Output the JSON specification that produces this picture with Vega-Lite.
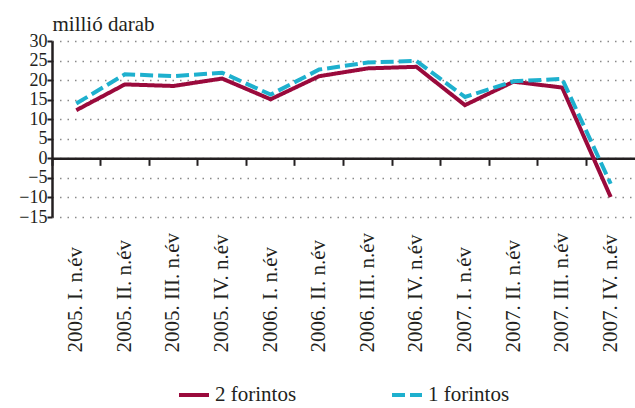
{
  "$schema": "https://vega.github.io/schema/vega-lite/v6.json",
  "width": 583,
  "height": 176,
  "autosize": "none",
  "padding": {"left": 52, "top": 41, "right": 0, "bottom": 191},
  "background": "white",
  "config": {
    "font": "Liberation Serif",
    "view": {"stroke": null},
    "axis": {"labelFont": "Liberation Serif", "titleFont": "Liberation Serif", "labelColor": "#231F20", "titleColor": "#231F20"},
    "legend": {"labelFont": "Liberation Serif", "titleFont": "Liberation Serif"}
  },
  "data": {
    "values": [
      {"q": "2005. I. n.év", "s": "2 forintos", "v": 12.3},
      {"q": "2005. II. n.év", "s": "2 forintos", "v": 18.9},
      {"q": "2005. III. n.év", "s": "2 forintos", "v": 18.5},
      {"q": "2005. IV. n.év", "s": "2 forintos", "v": 20.4},
      {"q": "2006. I. n.év", "s": "2 forintos", "v": 15.1},
      {"q": "2006. II. n.év", "s": "2 forintos", "v": 21.0},
      {"q": "2006. III. n.év", "s": "2 forintos", "v": 23.0},
      {"q": "2006. IV. n.év", "s": "2 forintos", "v": 23.4},
      {"q": "2007. I. n.év", "s": "2 forintos", "v": 13.6},
      {"q": "2007. II. n.év", "s": "2 forintos", "v": 19.6},
      {"q": "2007. III. n.év", "s": "2 forintos", "v": 18.1},
      {"q": "2007. IV. n.év", "s": "2 forintos", "v": -9.9},
      {"q": "2005. I. n.év", "s": "1 forintos", "v": 14.0},
      {"q": "2005. II. n.év", "s": "1 forintos", "v": 21.5},
      {"q": "2005. III. n.év", "s": "1 forintos", "v": 21.0},
      {"q": "2005. IV. n.év", "s": "1 forintos", "v": 21.9},
      {"q": "2006. I. n.év", "s": "1 forintos", "v": 16.3},
      {"q": "2006. II. n.év", "s": "1 forintos", "v": 22.7},
      {"q": "2006. III. n.év", "s": "1 forintos", "v": 24.5},
      {"q": "2006. IV. n.év", "s": "1 forintos", "v": 24.9},
      {"q": "2007. I. n.év", "s": "1 forintos", "v": 15.7},
      {"q": "2007. II. n.év", "s": "1 forintos", "v": 19.7},
      {"q": "2007. III. n.év", "s": "1 forintos", "v": 20.3},
      {"q": "2007. IV. n.év", "s": "1 forintos", "v": -6.5}
    ]
  },
  "encoding": {
    "y": {
      "field": "v", "type": "quantitative",
      "scale": {"domain": [-15, 30], "nice": false, "zero": false},
      "axis": {
        "values": [-15, -10, -5, 0, 5, 10, 15, 20, 25, 30],
        "labelOverlap": false,
        "title": "millió darab", "titleAngle": 0, "titleAlign": "left", "titleBaseline": "alphabetic",
        "titleX": 0, "titleY": -11, "titleFontSize": 21, "titleFontWeight": "normal",
        "titleFont": "Liberation Serif", "labelFont": "Liberation Serif",
        "labelFontSize": 18, "labelPadding": 0, "labelBaseline": "middle",
        "domainColor": "#231F20", "domainWidth": 2.5,
        "tickColor": "#231F20", "tickWidth": 2, "tickSize": 5,
        "grid": true, "gridColor": "#8a8a8a", "gridDash": [1.5, 6], "gridWidth": 1.5
      }
    }
  },
  "resolve": {"axis": {"x": "independent"}},
  "layer": [
    {
      "mark": {"type": "point", "opacity": 0},
      "encoding": {
        "x": {
          "field": "q", "type": "ordinal", "sort": null,
          "scale": {"type": "band", "paddingInner": 0, "paddingOuter": 0},
          "axis": {
            "orient": "bottom", "offset": -58.67, "title": null, "labels": false,
            "grid": false, "domain": true, "domainColor": "#231F20", "domainWidth": 2.5,
            "ticks": true, "tickColor": "#231F20", "tickWidth": 2, "tickSize": 7, "bandPosition": 0
          }
        }
      }
    },
    {
      "mark": {"type": "line", "strokeWidth": 4},
      "encoding": {
        "x": {
          "field": "q", "type": "ordinal", "sort": null,
          "scale": {"type": "band", "paddingInner": 0, "paddingOuter": 0},
          "axis": {
            "orient": "bottom", "title": null, "domain": false, "ticks": false, "grid": false,
            "labelAngle": -90, "labelAlign": "left", "labelBaseline": "middle",
            "labelPadding": 135, "labelFontSize": 21, "labelLimit": 200, "labelFont": "Liberation Serif"
          }
        },
        "color": {
          "field": "s", "type": "nominal",
          "scale": {"domain": ["2 forintos", "1 forintos"], "range": ["#9A0A3C", "#1EB0CE"]},
          "legend": {
            "title": null, "orient": "none", "direction": "horizontal", "legendX": 125, "legendY": 337,
            "symbolType": "stroke", "symbolStrokeWidth": 4, "symbolSize": 900,
            "labelFontSize": 21, "labelFont": "Liberation Serif", "labelColor": "#231F20",
            "labelOffset": 4, "columnPadding": 87
          }
        },
        "strokeDash": {
          "field": "s", "type": "nominal",
          "scale": {"domain": ["2 forintos", "1 forintos"], "range": [[1, 0], [13, 5]]},
          "legend": null
        }
      }
    }
  ]
}
